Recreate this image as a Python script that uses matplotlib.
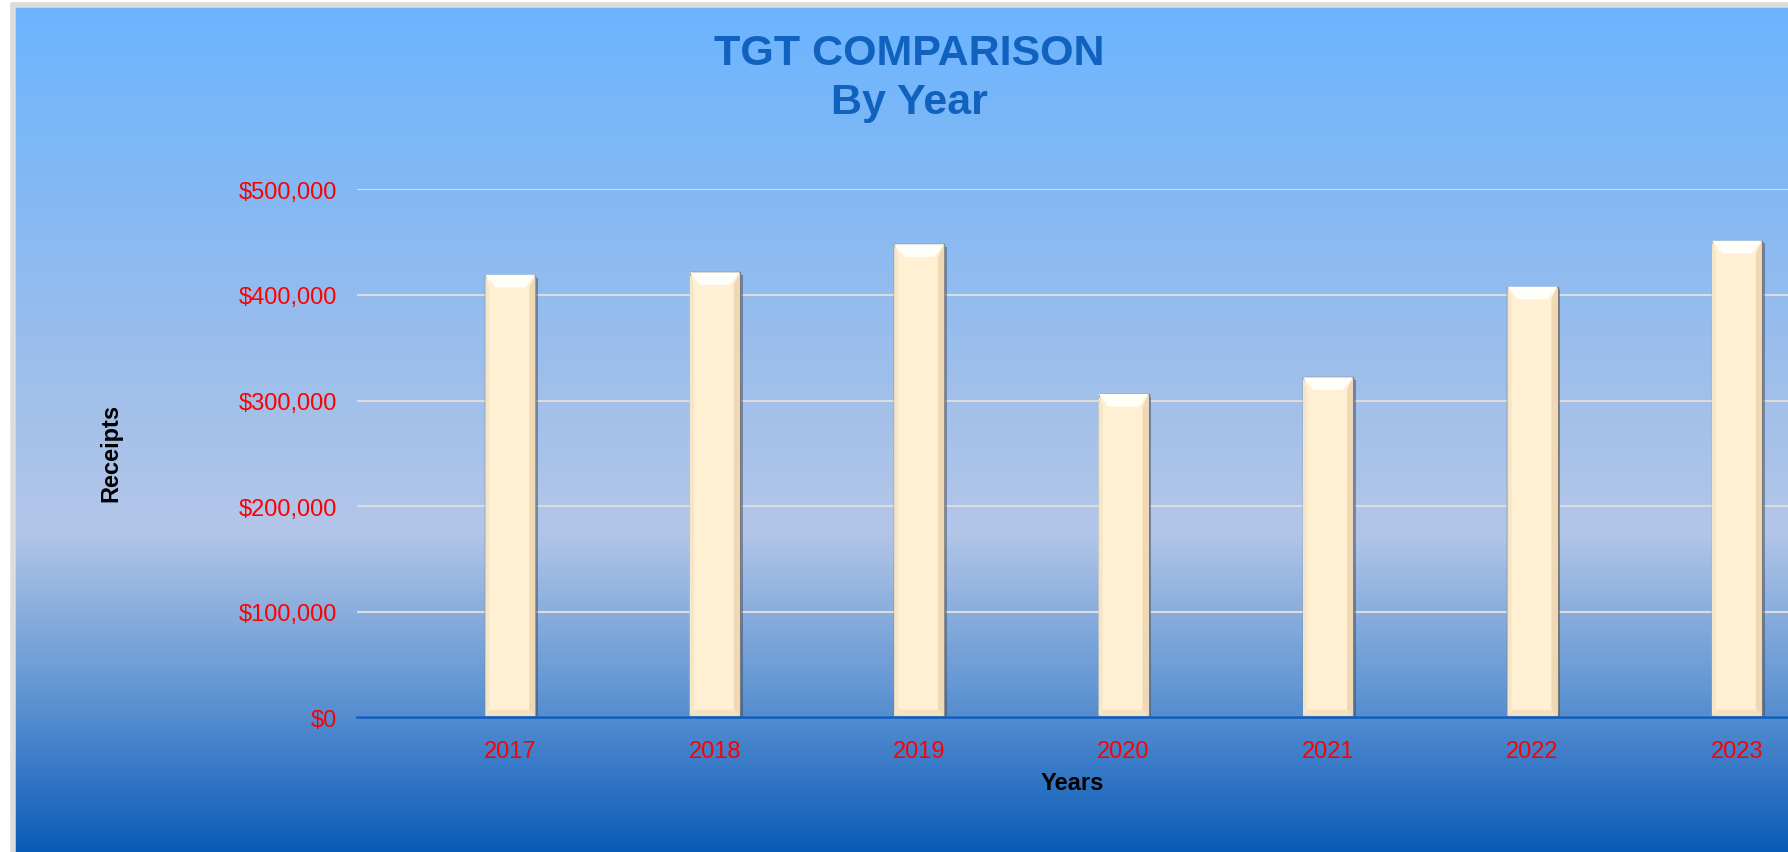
import numpy as np
import matplotlib.pyplot as plt
import matplotlib.patheffects as pe
from matplotlib.colors import LinearSegmentedColormap
from matplotlib.patches import Polygon, Rectangle
from matplotlib.ticker import FuncFormatter

plt.rcParams['font.family'] = ['Liberation Sans', 'DejaVu Sans']

# данные
years = ['2017', '2018', '2019', '2020', '2021', '2022', '2023']
receipts = [419200, 421500, 448100, 306300, 322100, 407900, 451400]
y_ticks = [0, 100000, 200000, 300000, 400000, 500000]

W, H = 1788, 853
fig = plt.figure(figsize=(W / 100, H / 100), dpi=100, facecolor='white')

# фон с градиентом
bg = fig.add_axes([15 / W, 0, 1 - 15 / W, 1 - 8 / H])
bg.set_axis_off()
grad_cmap = LinearSegmentedColormap.from_list('bg', [
    (0.0, '#0A5BB8'),
    (0.18, '#5E93D2'),
    (0.38, '#B3C6E8'),
    (0.55, '#A0BFEA'),
    (0.80, '#82B8F5'),
    (1.0, '#6BB5FF'),
])
bg.imshow(np.linspace(0, 1, 256).reshape(-1, 1), aspect='auto', cmap=grad_cmap,
          origin='lower', extent=[0, 1, 0, 1])
bg.set_xlim(0, 1)
bg.set_ylim(0, 1)
fig.patches.append(Rectangle((12.5 / W, -0.01), 1.1, 1 - 5.5 / H + 0.01,
                             transform=fig.transFigure, facecolor='none',
                             edgecolor='#DCDCDC', linewidth=4, zorder=5))

# основной график
ax = fig.add_axes([357 / W, 1 - 718.4 / H, 1 - 357 / W, (718.4 - 190.4) / H])
ax.patch.set_alpha(0)
x = np.arange(len(years))
bar_w = 0.245
bars = ax.bar(x, receipts, width=bar_w, color='#FFEFD3', edgecolor='#7A7A7A',
              linewidth=1.0, zorder=3)
for b in bars:
    b.set_path_effects([pe.SimplePatchShadow(offset=(2, -2), shadow_rgbFace='#2A3F66', alpha=0.45),
                        pe.Normal()])

# фаска сверху и по бокам
bev_x = 0.05
bev_y = 12000
for xi, v in zip(x, receipts):
    l, r = xi - bar_w / 2, xi + bar_w / 2
    ax.add_patch(Polygon([[l, v], [r, v], [r - bev_x, v - bev_y], [l + bev_x, v - bev_y]],
                         closed=True, facecolor='#FFFFFA', edgecolor='none', zorder=4))
    ax.add_patch(Polygon([[r, v], [r, 0], [r - bev_x * 0.6, bev_y * 0.6], [r - bev_x * 0.6, v - bev_y]],
                         closed=True, facecolor='#EED9B4', edgecolor='none', zorder=4))
    ax.add_patch(Polygon([[l, v], [l, 0], [l + bev_x * 0.4, bev_y * 0.6], [l + bev_x * 0.4, v - bev_y]],
                         closed=True, facecolor='#F6E6C8', edgecolor='none', zorder=4))
    ax.add_patch(Polygon([[l, 0], [r, 0], [r - bev_x * 0.6, bev_y * 0.6], [l + bev_x * 0.4, bev_y * 0.6]],
                         closed=True, facecolor='#F3E2C2', edgecolor='none', zorder=4))

ax.set_xlim(-0.75, 6.25)
ax.set_ylim(0, 500000)
ax.set_yticks(y_ticks)
ax.yaxis.set_major_formatter(FuncFormatter(lambda v, p: '${:,.0f}'.format(v)))
ax.set_xticks(x)
ax.set_xticklabels(years)
ax.tick_params(axis='both', length=0, labelcolor='#FF0000', labelsize=17)
ax.tick_params(axis='y', pad=14.5)
ax.tick_params(axis='x', pad=16)
ax.grid(axis='y', color='#DCDCDC', linewidth=1.5, zorder=1)
for s in ['top', 'right', 'left']:
    ax.spines[s].set_visible(False)
ax.spines['bottom'].set_color('#1560BD')
ax.spines['bottom'].set_linewidth(2)
ax.spines['bottom'].set_zorder(5)

fig.text(1072 / W, 1 - 784 / H, 'Years', ha='center', va='center',
         fontsize=17, fontweight='bold', color='black')
fig.text(111 / W, 1 - 453 / H, 'Receipts', ha='center', va='center', rotation=90,
         fontsize=17, fontweight='bold', color='black')
fig.text(909 / W, 1 - 54 / H, 'TGT COMPARISON', ha='center', va='center',
         fontsize=31, fontweight='bold', color='#1161BF')
fig.text(909 / W, 1 - 103 / H, 'By Year', ha='center', va='center',
         fontsize=31, fontweight='bold', color='#1161BF')

fig.savefig('out.png', dpi=100, facecolor='white')
